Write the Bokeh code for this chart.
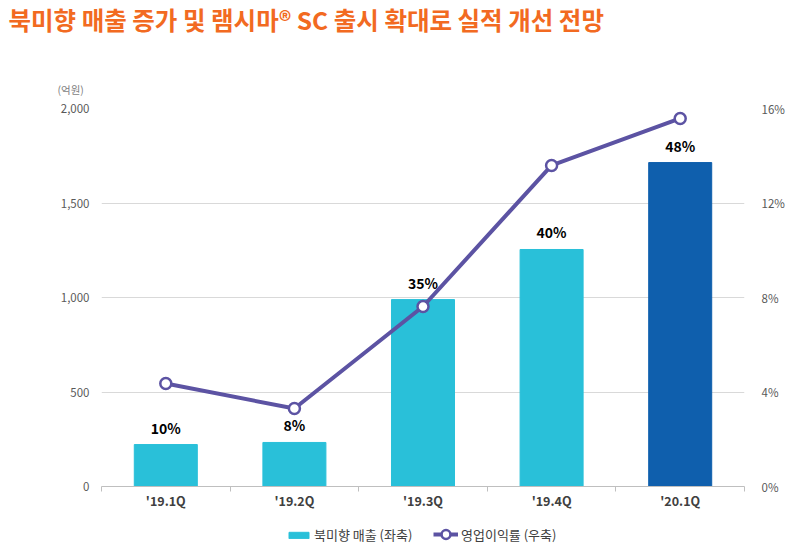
from bokeh.plotting import figure
from bokeh.layouts import column
from bokeh.models import (Range1d, LinearAxis, FixedTicker, NumeralTickFormatter,
                          PrintfTickFormatter, ColumnDataSource, Legend, LegendItem, Title)
from bokeh.core.properties import value
from bokeh.embed import file_html
from bokeh.resources import INLINE

# ---- data ----
quarters = ["'19.1Q", "'19.2Q", "'19.3Q", "'19.4Q", "'20.1Q"]
sales = [222, 233, 989, 1254, 1714]            # 북미향 매출 (억원, 좌축)
margin = [4.36, 3.30, 7.62, 13.59, 15.58]      # 영업이익률 (%, 우축)
growth_labels = ["10%", "8%", "35%", "40%", "48%"]
left_ticks = [0, 500, 1000, 1500, 2000]
right_ticks = [0, 4, 8, 12, 16]
series_names = ["북미향 매출 (좌축)", "영업이익률 (우축)"]

# ---- style ----
CYAN = "#29C0D9"
NAVY = "#0F5FAD"
PURPLE = "#5C53A3"
ORANGE = "#F26A21"
FONT = "Noto Sans CJK KR"
bar_colors = [CYAN] * (len(quarters) - 1) + [NAVY]

xs = [i + 0.5 for i in range(len(quarters))]
src = ColumnDataSource(dict(x=xs, sales=sales, margin=margin,
                            lab=growth_labels, color=bar_colors))

p = figure(width=787, height=516, x_range=Range1d(0, len(quarters)),
           y_range=Range1d(0, 2000), output_backend="svg", toolbar_location=None,
           min_border_left=101, min_border_right=35, min_border_top=108,
           min_border_bottom=30)
p.outline_line_color = None

# titles (stacked above the frame: unit, spacer, main title)
p.title.text = "북미향 매출 증가 및 램시마® SC 출시 확대로 실적 개선 전망"
p.title.align = "left"
p.title.vertical_align = "top"
p.title.offset = -93
p.title.standoff = 0
p.title.text_font = FONT
p.title.text_font_style = "bold"
p.title.text_font_size = "24.5px"
p.title.text_color = ORANGE
unit = Title(text="(억원)", align="left", offset=-44, standoff=24, text_font=FONT,
             text_font_style="normal", text_font_size="10.5px", text_color="#7F7F7F")
p.add_layout(unit, "above")
spacer = Title(text=" ", standoff=26, text_font_size="1px", text_color="white")
p.add_layout(spacer, "above")

# x axis
xa = p.xaxis[0]
xa.ticker = FixedTicker(ticks=xs, minor_ticks=list(range(len(quarters) + 1)))
xa.major_label_overrides = {x: q for x, q in zip(xs, quarters)}
xa.major_tick_out = 0
xa.major_tick_in = 0
xa.minor_tick_out = 5
xa.minor_tick_in = 0
xa.minor_tick_line_color = "#BFBFBF"
xa.axis_line_color = "#BFBFBF"
xa.major_label_standoff = -1
xa.major_label_text_font = FONT
xa.major_label_text_font_style = "bold"
xa.major_label_text_font_size = "12.5px"
xa.major_label_text_color = "#404040"

# left axis
ya = p.yaxis[0]
ya.ticker = FixedTicker(ticks=left_ticks)
ya.formatter = NumeralTickFormatter(format="0,0")
ya.axis_line_color = None
ya.major_tick_line_color = None
ya.minor_tick_line_color = None
ya.major_label_standoff = 6
ya.major_label_text_font = FONT
ya.major_label_text_font_size = "11.5px"
ya.major_label_text_color = "#595959"

# right axis
p.extra_y_ranges = {"pct": Range1d(0, 16)}
ra = LinearAxis(y_range_name="pct", ticker=FixedTicker(ticks=right_ticks),
                formatter=PrintfTickFormatter(format="%d%%"))
ra.axis_line_color = None
ra.major_tick_line_color = None
ra.minor_tick_line_color = None
ra.major_label_standoff = 11
ra.major_label_text_font = FONT
ra.major_label_text_font_size = "11.5px"
ra.major_label_text_color = "#595959"
p.add_layout(ra, "right")

p.xgrid.visible = False
p.ygrid.ticker = FixedTicker(ticks=left_ticks[1:])
p.ygrid.grid_line_color = "#D9D9D9"

p.vbar(x="x", top="sales", width=0.49, color="color", source=src)
p.text(x="x", y="sales", text="lab", source=src, y_offset=-7,
       text_align="center", text_baseline="bottom", text_font=value(FONT),
       text_font_style="bold", text_font_size="14px", text_color="#000000")
p.line(x="x", y="margin", source=src, y_range_name="pct",
       line_color=PURPLE, line_width=4)
p.scatter(x="x", y="margin", source=src, y_range_name="pct", size=11,
          fill_color="white", line_color=PURPLE, line_width=2.5)

# ---- legend strip (its own ranges keep the proxy glyphs out of view) ----
lg = figure(width=787, height=29, output_backend="svg", toolbar_location=None,
            x_axis_location=None, y_axis_location=None, min_border=0,
            x_range=Range1d(5, 6), y_range=Range1d(2000, 2001))
lg.outline_line_color = None
lg.grid.visible = False
lg.background_fill_color = "white"
lg.border_fill_color = "white"
lb = lg.vbar(x="x", top="sales", width=0.5, color=CYAN, source=src)
ll = lg.line(x="x", y="margin", line_color=PURPLE, line_width=4, source=src)
lm = lg.scatter(x="x", y="margin", fill_color="white", line_color=PURPLE,
                line_width=2.5, source=src)
common = dict(orientation="horizontal", glyph_width=25, label_height=16,
              label_standoff=3, margin=0, border_line_color=None,
              background_fill_alpha=0, label_text_font=FONT,
              label_text_font_size="13px", label_text_color="#404040")
leg1 = Legend(items=[LegendItem(label=series_names[0], renderers=[lb], index=0)],
              location=(185, 1), glyph_height=8, padding=2, **common)
leg2 = Legend(items=[LegendItem(label=series_names[1], renderers=[ll, lm])],
              location=(332, 0), glyph_height=22, padding=0, **common)
lg.add_layout(leg1, "center")
lg.add_layout(leg2, "center")

open("out.html", "w").write(file_html(column(p, lg, spacing=0), INLINE))
